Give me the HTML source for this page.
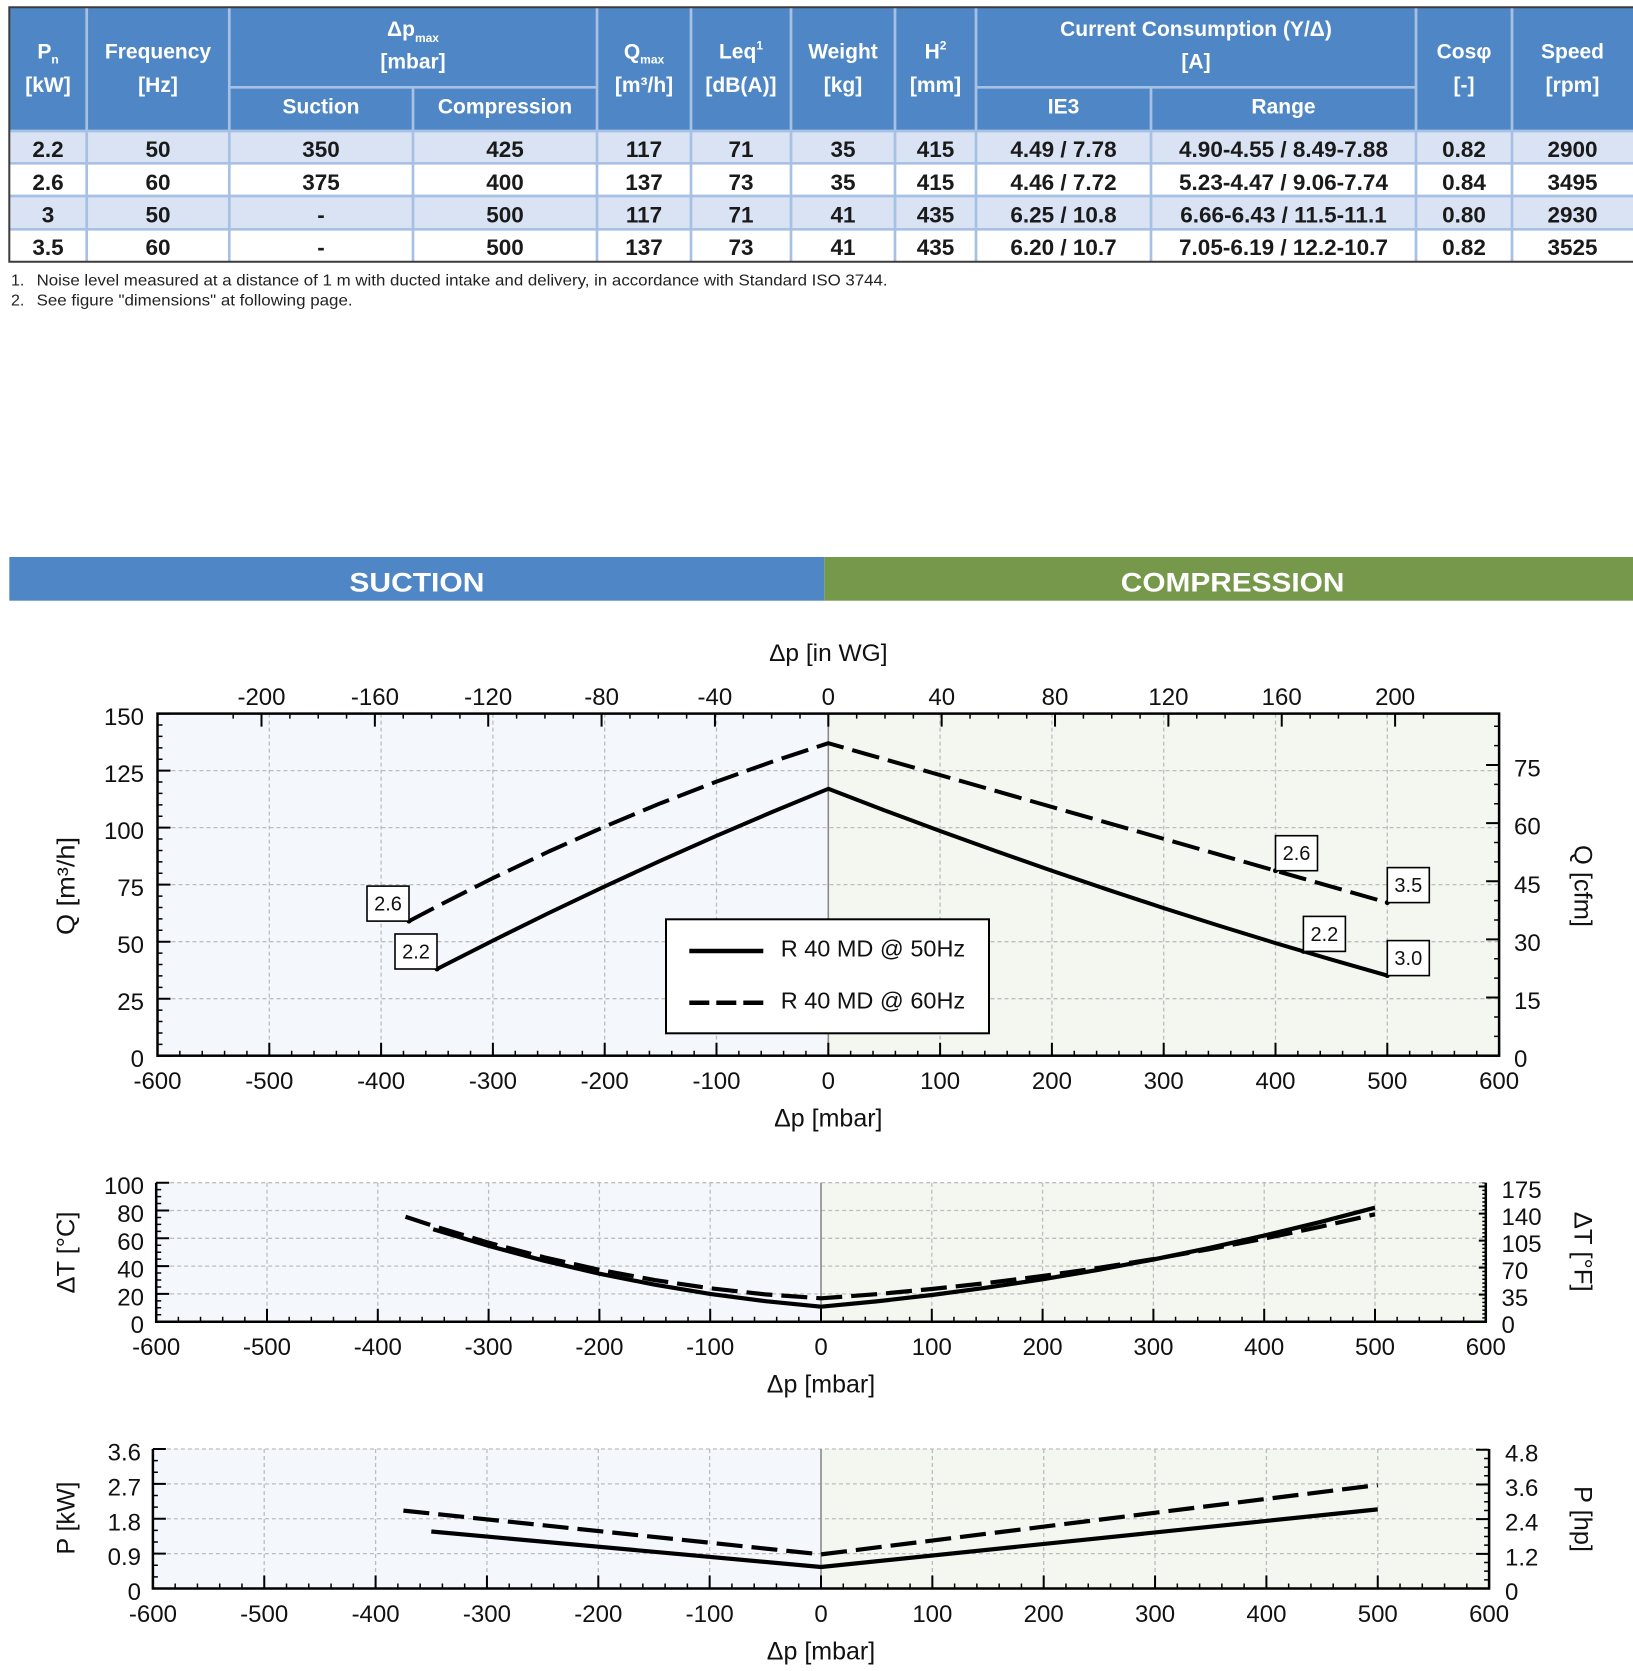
<!DOCTYPE html>
<html><head><meta charset="utf-8"><style>html,body{margin:0;padding:0;background:#fff}svg{display:block}</style></head><body>
<svg width="1633" height="1671" viewBox="0 0 1633 1671" xmlns="http://www.w3.org/2000/svg">
<rect width="1633" height="1671" fill="#fff"/>
<!-- TABLE -->
<rect x="9.3" y="7.3" width="1623.7" height="123.7" fill="#4f87c6"/>
<rect x="9.3" y="131" width="1623.7" height="32.3" fill="#d9e3f4"/>
<rect x="9.3" y="196" width="1623.7" height="33.3" fill="#d9e3f4"/>
<g stroke="#a6c1e4" stroke-width="2.7">
<line x1="9.3" y1="131" x2="1633" y2="131"/><line x1="9.3" y1="163.3" x2="1633" y2="163.3"/><line x1="9.3" y1="196" x2="1633" y2="196"/><line x1="9.3" y1="229.3" x2="1633" y2="229.3"/>
<line x1="229.3" y1="87.3" x2="597" y2="87.3"/><line x1="976" y1="87.3" x2="1416" y2="87.3"/>
<line x1="86.7" y1="7.3" x2="86.7" y2="261.7"/><line x1="229.3" y1="7.3" x2="229.3" y2="261.7"/><line x1="597" y1="7.3" x2="597" y2="261.7"/><line x1="691" y1="7.3" x2="691" y2="261.7"/><line x1="791" y1="7.3" x2="791" y2="261.7"/><line x1="895" y1="7.3" x2="895" y2="261.7"/><line x1="976" y1="7.3" x2="976" y2="261.7"/><line x1="1416" y1="7.3" x2="1416" y2="261.7"/><line x1="1512" y1="7.3" x2="1512" y2="261.7"/>
<line x1="413" y1="87.3" x2="413" y2="261.7"/><line x1="1151" y1="87.3" x2="1151" y2="261.7"/>
</g>
<path d="M1633 7.3 H9.3 V261.7 H1633" stroke="#3c3c3c" stroke-width="2" fill="none"/>
<g font-family="'Liberation Sans', Arial, sans-serif" font-weight="bold" font-size="21" fill="#fff" text-anchor="middle">
<text x="48" y="58.5">P<tspan font-size="12" dy="5">n</tspan></text><text x="48" y="92">[kW]</text>
<text x="158" y="58.5">Frequency</text><text x="158" y="92">[Hz]</text>
<text x="413" y="36">Δp<tspan font-size="12" dy="6">max</tspan></text><text x="413" y="68.5">[mbar]</text>
<text x="321" y="113.5">Suction</text><text x="505" y="113.5">Compression</text>
<text x="644" y="58.5">Q<tspan font-size="12" dy="5">max</tspan></text><text x="644" y="92">[m³/h]</text>
<text x="741" y="58.5">Leq<tspan font-size="12" dy="-9">1</tspan></text><text x="741" y="92">[dB(A)]</text>
<text x="843" y="58.5">Weight</text><text x="843" y="92">[kg]</text>
<text x="935.5" y="58.5">H<tspan font-size="12" dy="-9">2</tspan></text><text x="935.5" y="92">[mm]</text>
<text x="1196" y="36">Current Consumption (Y/Δ)</text><text x="1196" y="68.5">[A]</text>
<text x="1063.5" y="113.5">IE3</text><text x="1283.5" y="113.5">Range</text>
<text x="1464" y="58.5">Cosφ</text><text x="1464" y="92">[-]</text>
<text x="1572.5" y="58.5">Speed</text><text x="1572.5" y="92">[rpm]</text>
</g>
<g font-family="'Liberation Sans', Arial, sans-serif" font-weight="bold" font-size="22.5" fill="#1a1a1a" text-anchor="middle">
<text x="48" y="157">2.2</text><text x="158" y="157">50</text><text x="321" y="157">350</text><text x="505" y="157">425</text><text x="644" y="157">117</text><text x="741" y="157">71</text><text x="843" y="157">35</text><text x="935.5" y="157">415</text><text x="1063.5" y="157">4.49 / 7.78</text><text x="1283.5" y="157">4.90-4.55 / 8.49-7.88</text><text x="1464" y="157">0.82</text><text x="1572.5" y="157">2900</text>
<text x="48" y="190">2.6</text><text x="158" y="190">60</text><text x="321" y="190">375</text><text x="505" y="190">400</text><text x="644" y="190">137</text><text x="741" y="190">73</text><text x="843" y="190">35</text><text x="935.5" y="190">415</text><text x="1063.5" y="190">4.46 / 7.72</text><text x="1283.5" y="190">5.23-4.47 / 9.06-7.74</text><text x="1464" y="190">0.84</text><text x="1572.5" y="190">3495</text>
<text x="48" y="222.7">3</text><text x="158" y="222.7">50</text><text x="321" y="222.7">-</text><text x="505" y="222.7">500</text><text x="644" y="222.7">117</text><text x="741" y="222.7">71</text><text x="843" y="222.7">41</text><text x="935.5" y="222.7">435</text><text x="1063.5" y="222.7">6.25 / 10.8</text><text x="1283.5" y="222.7">6.66-6.43 / 11.5-11.1</text><text x="1464" y="222.7">0.80</text><text x="1572.5" y="222.7">2930</text>
<text x="48" y="255">3.5</text><text x="158" y="255">60</text><text x="321" y="255">-</text><text x="505" y="255">500</text><text x="644" y="255">137</text><text x="741" y="255">73</text><text x="843" y="255">41</text><text x="935.5" y="255">435</text><text x="1063.5" y="255">6.20 / 10.7</text><text x="1283.5" y="255">7.05-6.19 / 12.2-10.7</text><text x="1464" y="255">0.82</text><text x="1572.5" y="255">3525</text>
</g>
<g font-family="'Liberation Sans', Arial, sans-serif" font-size="16" fill="#222">
<text x="11" y="285.5">1.</text><text x="36.6" y="285.5" textLength="851" lengthAdjust="spacingAndGlyphs">Noise level measured at a distance of 1 m with ducted intake and delivery, in accordance with Standard ISO 3744.</text>
<text x="11" y="305.5">2.</text><text x="36.6" y="305.5" textLength="316" lengthAdjust="spacingAndGlyphs">See figure &quot;dimensions&quot; at following page.</text>
</g>
<!-- SECTION BAR -->
<rect x="9.3" y="557" width="815" height="43.7" fill="#4f87c6"/>
<rect x="824.3" y="557" width="808.7" height="43.7" fill="#76984b"/>
<g font-family="'Liberation Sans', Arial, sans-serif" font-weight="bold" font-size="26.5" fill="#fff">
<text x="349.4" y="591.5" textLength="135" lengthAdjust="spacingAndGlyphs">SUCTION</text>
<text x="1120.8" y="591.5" textLength="223.6" lengthAdjust="spacingAndGlyphs">COMPRESSION</text>
</g>

<!-- MAIN CHART -->
<rect x="157.5" y="713.6" width="670.8" height="342.1" fill="#f4f8fd"/>
<rect x="828.3" y="713.6" width="670.8" height="342.1" fill="#f3f7f0"/>
<g stroke="#bdbdbd" stroke-width="1.3" stroke-dasharray="4 3">
<line x1="269.3" y1="713.6" x2="269.3" y2="1055.7"/><line x1="381.1" y1="713.6" x2="381.1" y2="1055.7"/><line x1="492.9" y1="713.6" x2="492.9" y2="1055.7"/><line x1="604.7" y1="713.6" x2="604.7" y2="1055.7"/><line x1="716.5" y1="713.6" x2="716.5" y2="1055.7"/><line x1="940.1" y1="713.6" x2="940.1" y2="1055.7"/><line x1="1051.9" y1="713.6" x2="1051.9" y2="1055.7"/><line x1="1163.7" y1="713.6" x2="1163.7" y2="1055.7"/><line x1="1275.5" y1="713.6" x2="1275.5" y2="1055.7"/><line x1="1387.3" y1="713.6" x2="1387.3" y2="1055.7"/>
<line x1="157.5" y1="998.7" x2="1499.1" y2="998.7"/><line x1="157.5" y1="941.7" x2="1499.1" y2="941.7"/><line x1="157.5" y1="884.6" x2="1499.1" y2="884.6"/><line x1="157.5" y1="827.6" x2="1499.1" y2="827.6"/><line x1="157.5" y1="770.6" x2="1499.1" y2="770.6"/>
</g>
<line x1="828.3" y1="713.6" x2="828.3" y2="1055.7" stroke="#8a8a8a" stroke-width="1.6"/>
<g fill="none" stroke="#000" stroke-width="4" stroke-linejoin="round">
<polyline points="437.0,969.0 492.9,940.6 548.8,913.0 604.7,886.4 660.6,860.7 716.5,835.8 772.4,811.9 828.3,788.8 884.2,810.2 940.1,831.0 996.0,851.1 1051.9,870.7 1107.8,889.7 1163.7,908.1 1219.6,925.9 1275.5,943.1 1331.4,959.6 1387.3,975.6"/>
<polyline stroke-dasharray="28 9" points="409.0,921.1 437.0,906.4 492.9,878.1 548.8,851.5 604.7,826.6 660.6,803.2 716.5,781.6 772.4,761.6 828.3,743.2 1387.3,902.6"/>
</g>
<g fill="#000"><circle cx="437" cy="969" r="2.5"/><circle cx="409" cy="921.1" r="2.5"/><circle cx="1275.5" cy="870.7" r="2.5"/><circle cx="1387.3" cy="902.6" r="2.5"/><circle cx="1303.4" cy="951.4" r="2.5"/><circle cx="1387.3" cy="975.6" r="2.5"/></g>
<g fill="#fff" stroke="#000" stroke-width="1.6">
<rect x="367" y="886.1" width="42" height="35"/><rect x="395" y="934" width="42" height="35"/><rect x="1275.5" y="835.7" width="42" height="35"/><rect x="1387.3" y="867.6" width="42" height="35"/><rect x="1303.4" y="916.4" width="42" height="35"/><rect x="1387.3" y="940.6" width="42" height="35"/>
</g>
<g font-family="'Liberation Sans', Arial, sans-serif" font-size="20" fill="#111" text-anchor="middle">
<text x="388" y="910.6">2.6</text><text x="416" y="958.5">2.2</text><text x="1296.5" y="860.2">2.6</text><text x="1408.3" y="892.1">3.5</text><text x="1324.4" y="940.9">2.2</text><text x="1408.3" y="965.1">3.0</text>
</g>
<rect x="666" y="919.3" width="323" height="114" fill="#fff" stroke="#000" stroke-width="2"/>
<line x1="689.3" y1="951" x2="763.3" y2="951" stroke="#000" stroke-width="4.5"/>
<line x1="689.3" y1="1002.7" x2="763.3" y2="1002.7" stroke="#000" stroke-width="4.5" stroke-dasharray="20 7"/>
<g font-family="'Liberation Sans', Arial, sans-serif" font-size="23.5" fill="#111">
<text x="780.7" y="956.7">R 40 MD @ 50Hz</text><text x="780.7" y="1008.3">R 40 MD @ 60Hz</text>
</g>
<rect x="157.5" y="713.6" width="1341.6" height="342.1" fill="none" stroke="#000" stroke-width="2.5"/>
<g stroke="#000" fill="none">
<line x1="156.75" y1="1053.2" x2="1500" y2="1053.2" stroke-width="5" stroke-dasharray="1.5 20.86"/>
<line x1="156.5" y1="1049.2" x2="1500.5" y2="1049.2" stroke-width="13" stroke-dasharray="2 109.8"/>
<line x1="232.45" y1="716.1" x2="1425" y2="716.1" stroke-width="5" stroke-dasharray="1.5 26.84"/>
<line x1="260.5" y1="720.1" x2="1397" y2="720.1" stroke-width="13" stroke-dasharray="2 111.36"/>
<line x1="160" y1="712.85" x2="160" y2="1057" stroke-width="5" stroke-dasharray="1.5 9.905"/>
<line x1="164" y1="712.6" x2="164" y2="1057" stroke-width="13" stroke-dasharray="2 55.025"/>
<line x1="1496.6" y1="1056.45" x2="1496.6" y2="713.6" stroke-width="5" stroke-dasharray="1.5 17.88"/>
<line x1="1492.6" y1="1056.7" x2="1492.6" y2="713.6" stroke-width="13" stroke-dasharray="2 56.14"/>
</g>
<g font-family="'Liberation Sans', Arial, sans-serif" font-size="24" fill="#111">
<g text-anchor="middle">
<text x="157.5" y="1089">-600</text><text x="269.3" y="1089">-500</text><text x="381.1" y="1089">-400</text><text x="492.9" y="1089">-300</text><text x="604.7" y="1089">-200</text><text x="716.5" y="1089">-100</text><text x="828.3" y="1089">0</text><text x="940.1" y="1089">100</text><text x="1051.9" y="1089">200</text><text x="1163.7" y="1089">300</text><text x="1275.5" y="1089">400</text><text x="1387.3" y="1089">500</text><text x="1499.1" y="1089">600</text>
<text x="261.5" y="705">-200</text><text x="374.9" y="705">-160</text><text x="488.2" y="705">-120</text><text x="601.6" y="705">-80</text><text x="714.9" y="705">-40</text><text x="828.3" y="705">0</text><text x="941.7" y="705">40</text><text x="1055" y="705">80</text><text x="1168.4" y="705">120</text><text x="1281.7" y="705">160</text><text x="1395.1" y="705">200</text>
</g>
<g text-anchor="end">
<text x="144" y="725.1">150</text><text x="144" y="782.1">125</text><text x="144" y="839.1">100</text><text x="144" y="896.1">75</text><text x="144" y="953.2">50</text><text x="144" y="1010.2">25</text><text x="144" y="1067.2">0</text>
</g>
<text x="1514" y="776.5">75</text><text x="1514" y="834.6">60</text><text x="1514" y="892.8">45</text><text x="1514" y="950.9">30</text><text x="1514" y="1009.1">15</text><text x="1514" y="1067.2">0</text>
</g>
<g font-family="'Liberation Sans', Arial, sans-serif" font-size="25" fill="#111" text-anchor="middle">
<text x="828.3" y="661" font-size="24.5">Δp [in WG]</text>
<text x="828.3" y="1126.5">Δp [mbar]</text>
<text transform="translate(74.5,886) rotate(-90)" textLength="98" lengthAdjust="spacingAndGlyphs">Q [m³/h]</text>
<text transform="translate(1574.5,886) rotate(90)" textLength="82" lengthAdjust="spacingAndGlyphs">Q [cfm]</text>
</g>

<!-- TEMP CHART -->
<rect x="156.2" y="1182.7" width="664.8" height="139" fill="#f4f8fd"/>
<rect x="821" y="1182.7" width="664.8" height="139" fill="#f3f7f0"/>
<g stroke="#bdbdbd" stroke-width="1.3" stroke-dasharray="4 3">
<line x1="267" y1="1182.7" x2="267" y2="1321.7"/><line x1="377.8" y1="1182.7" x2="377.8" y2="1321.7"/><line x1="488.6" y1="1182.7" x2="488.6" y2="1321.7"/><line x1="599.4" y1="1182.7" x2="599.4" y2="1321.7"/><line x1="710.2" y1="1182.7" x2="710.2" y2="1321.7"/><line x1="931.8" y1="1182.7" x2="931.8" y2="1321.7"/><line x1="1042.6" y1="1182.7" x2="1042.6" y2="1321.7"/><line x1="1153.4" y1="1182.7" x2="1153.4" y2="1321.7"/><line x1="1264.2" y1="1182.7" x2="1264.2" y2="1321.7"/><line x1="1375" y1="1182.7" x2="1375" y2="1321.7"/>
<line x1="156.2" y1="1293.9" x2="1485.8" y2="1293.9"/><line x1="156.2" y1="1266.1" x2="1485.8" y2="1266.1"/><line x1="156.2" y1="1238.3" x2="1485.8" y2="1238.3"/><line x1="156.2" y1="1210.5" x2="1485.8" y2="1210.5"/><line x1="156.2" y1="1182.7" x2="1485.8" y2="1182.7"/>
</g>
<line x1="821" y1="1182.7" x2="821" y2="1321.7" stroke="#8a8a8a" stroke-width="1.6"/>
<g fill="none" stroke="#000" stroke-width="4.2" stroke-linejoin="round">
<polyline points="433.2,1229.3 488.6,1245.9 544.0,1260.7 599.4,1273.7 654.8,1284.7 710.2,1293.9 765.6,1301.2 821,1306.7 876.4,1301.4 931.8,1295.0 987.2,1287.6 1042.6,1279.3 1098.0,1269.9 1153.4,1259.5 1208.8,1248.1 1264.2,1235.6 1319.6,1222.2 1375,1207.7"/>
<polyline stroke-dasharray="26 9" points="405.5,1216.8 433.2,1225.9 488.6,1242.7 544.0,1257.3 599.4,1269.8 654.8,1280.1 710.2,1288.3 765.6,1294.4 821,1298.3 876.4,1294.2 931.8,1289.0 987.2,1283.0 1042.6,1276.0 1098.0,1268.0 1153.4,1259.1 1208.8,1249.3 1264.2,1238.6 1319.6,1226.9 1375,1214.3"/>
</g>
<path d="M156.2 1182.7 V1321.7 H1485.8 V1182.7" fill="none" stroke="#000" stroke-width="2.5"/>
<g stroke="#000" fill="none">
<line x1="155.45" y1="1319.2" x2="1487" y2="1319.2" stroke-width="5" stroke-dasharray="1.5 20.66"/>
<line x1="155.2" y1="1315.2" x2="1487" y2="1315.2" stroke-width="13" stroke-dasharray="2 108.8"/>
<line x1="158.7" y1="1181.95" x2="158.7" y2="1323" stroke-width="5" stroke-dasharray="1.5 5.45"/>
<line x1="162.7" y1="1181.7" x2="162.7" y2="1323" stroke-width="13" stroke-dasharray="2 25.8"/>
<line x1="1484.05" y1="1322.45" x2="1484.05" y2="1182.5" stroke-width="3.5" stroke-dasharray="1.5 2.361"/>
<line x1="1482.3" y1="1322.7" x2="1482.3" y2="1182.5" stroke-width="7" stroke-dasharray="2 25.03"/>
</g>
<g font-family="'Liberation Sans', Arial, sans-serif" font-size="24" fill="#111">
<g text-anchor="middle">
<text x="156.2" y="1355">-600</text><text x="267" y="1355">-500</text><text x="377.8" y="1355">-400</text><text x="488.6" y="1355">-300</text><text x="599.4" y="1355">-200</text><text x="710.2" y="1355">-100</text><text x="821" y="1355">0</text><text x="931.8" y="1355">100</text><text x="1042.6" y="1355">200</text><text x="1153.4" y="1355">300</text><text x="1264.2" y="1355">400</text><text x="1375" y="1355">500</text><text x="1485.8" y="1355">600</text>
</g>
<g text-anchor="end">
<text x="144" y="1194.2">100</text><text x="144" y="1222">80</text><text x="144" y="1249.8">60</text><text x="144" y="1277.6">40</text><text x="144" y="1305.4">20</text><text x="144" y="1333.2">0</text>
</g>
<text x="1501.5" y="1198.1">175</text><text x="1501.5" y="1225.1">140</text><text x="1501.5" y="1252.1">105</text><text x="1501.5" y="1279.1">70</text><text x="1501.5" y="1306.2">35</text><text x="1501.5" y="1333.2">0</text>
</g>
<g font-family="'Liberation Sans', Arial, sans-serif" font-size="25" fill="#111" text-anchor="middle">
<text x="821" y="1392.7">Δp [mbar]</text>
<text transform="translate(74.5,1252.5) rotate(-90)" textLength="82" lengthAdjust="spacingAndGlyphs">ΔT [°C]</text>
<text transform="translate(1574.5,1251.7) rotate(90)" textLength="80" lengthAdjust="spacingAndGlyphs">ΔT [°F]</text>
</g>

<!-- POWER CHART -->
<rect x="152.9" y="1449" width="668.1" height="139.5" fill="#f4f8fd"/>
<rect x="821" y="1449" width="668.1" height="139.5" fill="#f3f7f0"/>
<g stroke="#bdbdbd" stroke-width="1.3" stroke-dasharray="4 3">
<line x1="264.2" y1="1449" x2="264.2" y2="1588.5"/><line x1="375.6" y1="1449" x2="375.6" y2="1588.5"/><line x1="486.95" y1="1449" x2="486.95" y2="1588.5"/><line x1="598.3" y1="1449" x2="598.3" y2="1588.5"/><line x1="709.65" y1="1449" x2="709.65" y2="1588.5"/><line x1="932.35" y1="1449" x2="932.35" y2="1588.5"/><line x1="1043.7" y1="1449" x2="1043.7" y2="1588.5"/><line x1="1155.05" y1="1449" x2="1155.05" y2="1588.5"/><line x1="1266.4" y1="1449" x2="1266.4" y2="1588.5"/><line x1="1377.75" y1="1449" x2="1377.75" y2="1588.5"/>
<line x1="152.9" y1="1553.6" x2="1489.1" y2="1553.6"/><line x1="152.9" y1="1518.75" x2="1489.1" y2="1518.75"/><line x1="152.9" y1="1483.9" x2="1489.1" y2="1483.9"/><line x1="152.9" y1="1449" x2="1489.1" y2="1449"/>
</g>
<line x1="821" y1="1449" x2="821" y2="1588.5" stroke="#8a8a8a" stroke-width="1.6"/>
<g fill="none" stroke="#000" stroke-width="4.2" stroke-linejoin="round">
<polyline points="431.3,1531.5 821,1567.0 1377.75,1509.4"/>
<polyline stroke-dasharray="26 9" points="403.4,1510.6 821,1554.4 1377.75,1485.0"/>
</g>
<path d="M152.9 1449 V1588.5 H1489.1 V1449" fill="none" stroke="#000" stroke-width="2.5"/>
<g stroke="#000" fill="none">
<line x1="152.15" y1="1586" x2="1490" y2="1586" stroke-width="5" stroke-dasharray="1.5 20.77"/>
<line x1="151.9" y1="1582" x2="1490" y2="1582" stroke-width="13" stroke-dasharray="2 109.35"/>
<line x1="155.4" y1="1448.25" x2="155.4" y2="1589.5" stroke-width="5" stroke-dasharray="1.5 10.125"/>
<line x1="159.4" y1="1448" x2="159.4" y2="1590" stroke-width="13" stroke-dasharray="2 32.875"/>
<line x1="1486.6" y1="1589.25" x2="1486.6" y2="1448.5" stroke-width="5" stroke-dasharray="1.5 7.169"/>
<line x1="1482.6" y1="1589.5" x2="1482.6" y2="1448.5" stroke-width="13" stroke-dasharray="2 32.675"/>
</g>
<g font-family="'Liberation Sans', Arial, sans-serif" font-size="24" fill="#111">
<g text-anchor="middle">
<text x="152.9" y="1621.8">-600</text><text x="264.2" y="1621.8">-500</text><text x="375.6" y="1621.8">-400</text><text x="486.95" y="1621.8">-300</text><text x="598.3" y="1621.8">-200</text><text x="709.65" y="1621.8">-100</text><text x="821" y="1621.8">0</text><text x="932.35" y="1621.8">100</text><text x="1043.7" y="1621.8">200</text><text x="1155.05" y="1621.8">300</text><text x="1266.4" y="1621.8">400</text><text x="1377.75" y="1621.8">500</text><text x="1489.1" y="1621.8">600</text>
</g>
<g text-anchor="end">
<text x="141" y="1460.5">3.6</text><text x="141" y="1495.4">2.7</text><text x="141" y="1530.25">1.8</text><text x="141" y="1565.1">0.9</text><text x="141" y="1600">0</text>
</g>
<text x="1505" y="1461.3">4.8</text><text x="1505" y="1496">3.6</text><text x="1505" y="1530.6">2.4</text><text x="1505" y="1565.3">1.2</text><text x="1505" y="1600">0</text>
</g>
<g font-family="'Liberation Sans', Arial, sans-serif" font-size="25" fill="#111" text-anchor="middle">
<text x="821" y="1659.5">Δp [mbar]</text>
<text transform="translate(74.5,1518) rotate(-90)" textLength="73" lengthAdjust="spacingAndGlyphs">P [kW]</text>
<text transform="translate(1574.5,1519) rotate(90)" textLength="66" lengthAdjust="spacingAndGlyphs">P [hp]</text>
</g>
</svg>
</body></html>
